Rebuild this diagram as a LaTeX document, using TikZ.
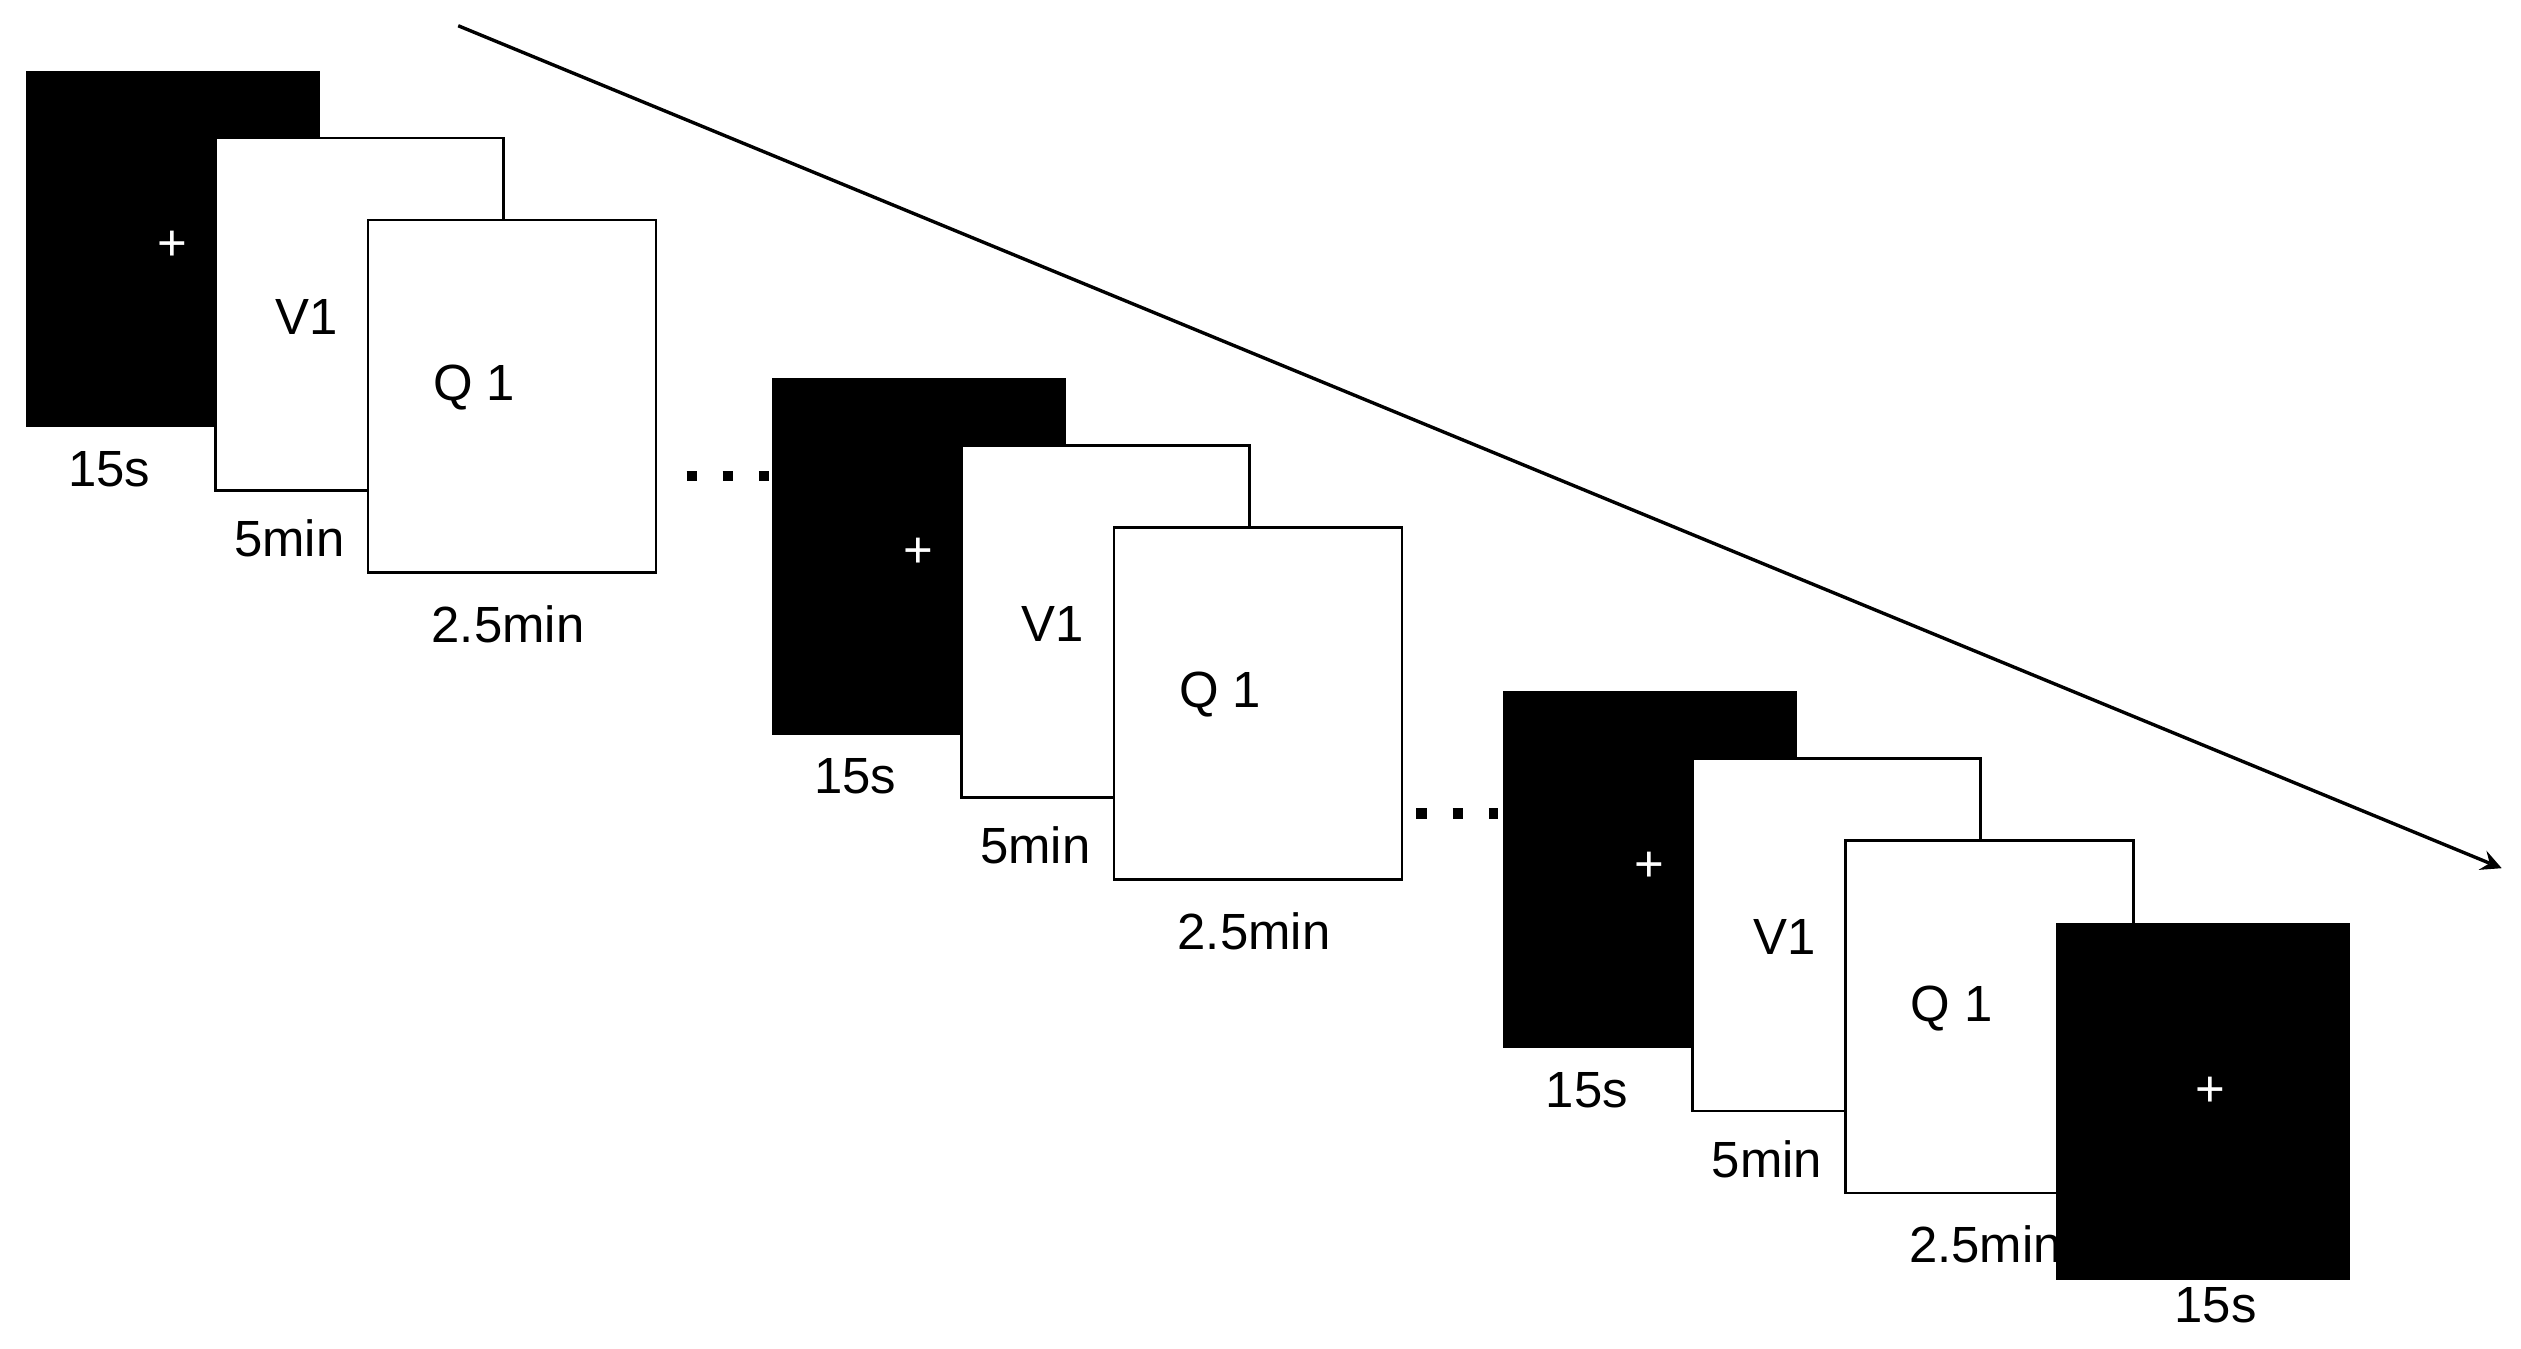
\documentclass[tikz,border=0pt]{standalone}
\usepackage{fontspec}
\setmainfont{Liberation Sans}
\begin{document}
\begin{tikzpicture}[x=0.01cm,y=-0.01cm,
  blk/.style={draw=black,fill=black,anchor=north west,minimum width=1.81cm,minimum height=2.2cm,inner sep=0,line width=0.5pt},
  wht/.style={draw=black,fill=white,anchor=north west,minimum width=1.79cm,minimum height=2.19cm,inner sep=0,line width=0.5pt},
  lbl/.style={font=\fontsize{9}{11}\selectfont,inner sep=0},
  plus/.style={text=white,font=\fontsize{9}{11}\selectfont,inner sep=0},
  dots/.style={line width=1.8pt,dash pattern=on 1.8pt off 4.6pt}]
\useasboundingbox (0,0) rectangle (1568,839);
\newcommand\grp[3]{%
  \begin{scope}[shift={(#1,#2)}]
  \node[blk] (#3b) at (16,44) {};
  \node[plus] (#3p) at (107,153) {+};
  \node[wht] (#3v) at (133,85) {};
  \node[lbl] (#3vt) at (191,197) {V1};
  \node[wht] (#3q) at (228,136) {};
  \node[lbl] (#3qt) at (295,241) {Q 1};
  \node[lbl] (#3l1) at (68,292) {15s};
  \node[lbl] (#3l2) at (180,335) {5min};
  \node[lbl] (#3l3) at (316,388) {2.5min};
  \end{scope}}
\grp{0}{0}{a}
\grp{464}{191}{b}
\grp{919}{386}{c}
\node[blk] (d) at (1279,574) {};
\node[plus] (dp) at (1375,679) {+};
\node[lbl] (dl) at (1378,812) {15s};
\coordinate (d1s) at (427,296); \coordinate (d1e) at (478,296);
\coordinate (d2s) at (881,506); \coordinate (d2e) at (932,506);
\draw[dots] (d1s) -- (d1e);
\draw[dots] (d2s) -- (d2e);
\coordinate (as) at (285,16); \coordinate (ae) at (1556,540);
\draw[->,line width=0.6pt,>=stealth] (as) -- (ae);
\end{tikzpicture}
\end{document}
